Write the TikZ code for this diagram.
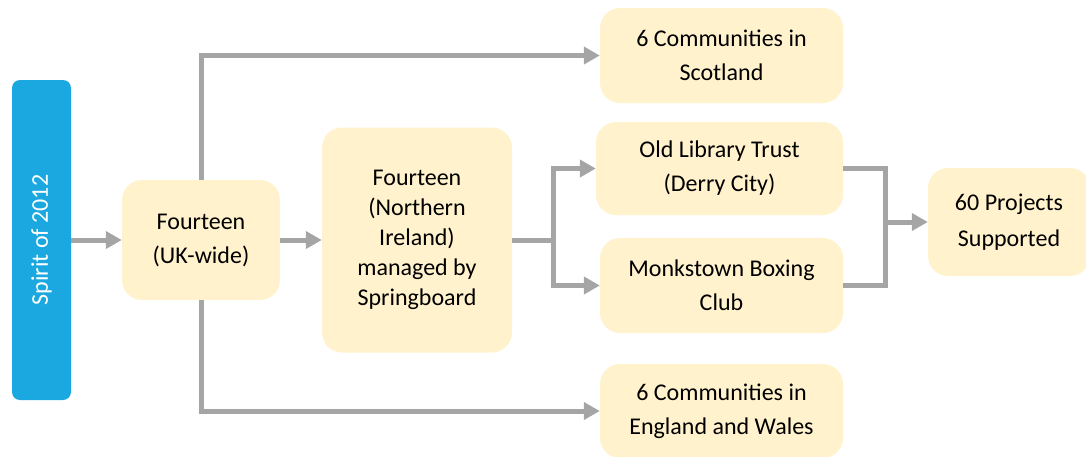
\documentclass[tikz,border=0pt]{standalone}
\usepackage{fontspec}
\setmainfont{Carlito}
\usetikzlibrary{arrows.meta}
\definecolor{boxfill}{HTML}{FFF2CC}
\definecolor{spiritblue}{HTML}{1BA8E0}
\definecolor{arrowgray}{HTML}{A5A5A5}
\begin{document}
\begin{tikzpicture}[x=1pt,y=-1pt,
  cream/.style={fill=boxfill, draw=none, rounded corners=20pt, inner sep=0pt, align=center,
    font=\fontsize{24}{34}\selectfont},
  flow/.style={draw=arrowgray, line width=5pt, -{Triangle[length=16pt,width=17pt]}},
  plain/.style={draw=arrowgray, line width=5pt}]
\useasboundingbox (0,0) rectangle (1086,456);
% nodes
\node[fill=spiritblue, rounded corners=8pt, minimum width=59pt, minimum height=320pt, inner sep=0pt] (spirit) at (41.5,240) {};
\node[rotate=90, text=white, font=\fontsize{24}{34}\selectfont] (spiritlbl) at (spirit.center) {Spirit of 2012};
\node[cream, minimum width=158pt, minimum height=120pt] (uk) at (201,240) {Fourteen\\(UK-wide)};
\node[cream, minimum width=190pt, minimum height=225pt, font=\fontsize{24}{30}\selectfont] (ni) at (417,240) {Fourteen\\(Northern\\Ireland)\\managed by\\Springboard};
\node[cream, minimum width=243pt, minimum height=95pt] (scot) at (721.5,55.5) {6 Communities in\\Scotland};
\node[cream, minimum width=247pt, minimum height=93pt] (olt) at (719.5,168.5) {Old Library Trust\\(Derry City)};
\node[cream, minimum width=243pt, minimum height=95pt] (mbc) at (721.5,285.5) {Monkstown Boxing\\Club};
\node[cream, minimum width=243pt, minimum height=94pt] (eng) at (721.5,411) {6 Communities in\\England and Wales};
\node[cream, minimum width=162pt, minimum height=108pt, font=\fontsize{24}{36}\selectfont] (proj) at (1009,222) {60 Projects\\Supported};
% junction coordinates
\coordinate (nisplit) at (553,240);
\coordinate (merge) at (885,222);
% connectors
\draw[flow] (spirit.east) -- (uk.west);
\draw[flow] (uk.north) |- (scot.west);
\draw[flow] (uk.south) |- (eng.west);
\draw[flow] (uk.east) -- (ni.west);
\draw[plain] (ni.east) -- (nisplit);
\draw[flow] (nisplit) |- (olt.west);
\draw[flow] (nisplit) |- (mbc.west);
\draw[plain] (olt.east) -| (merge);
\draw[plain] (mbc.east) -| (merge);
\draw[flow] (merge) -- (proj.west);
\end{tikzpicture}
\end{document}
